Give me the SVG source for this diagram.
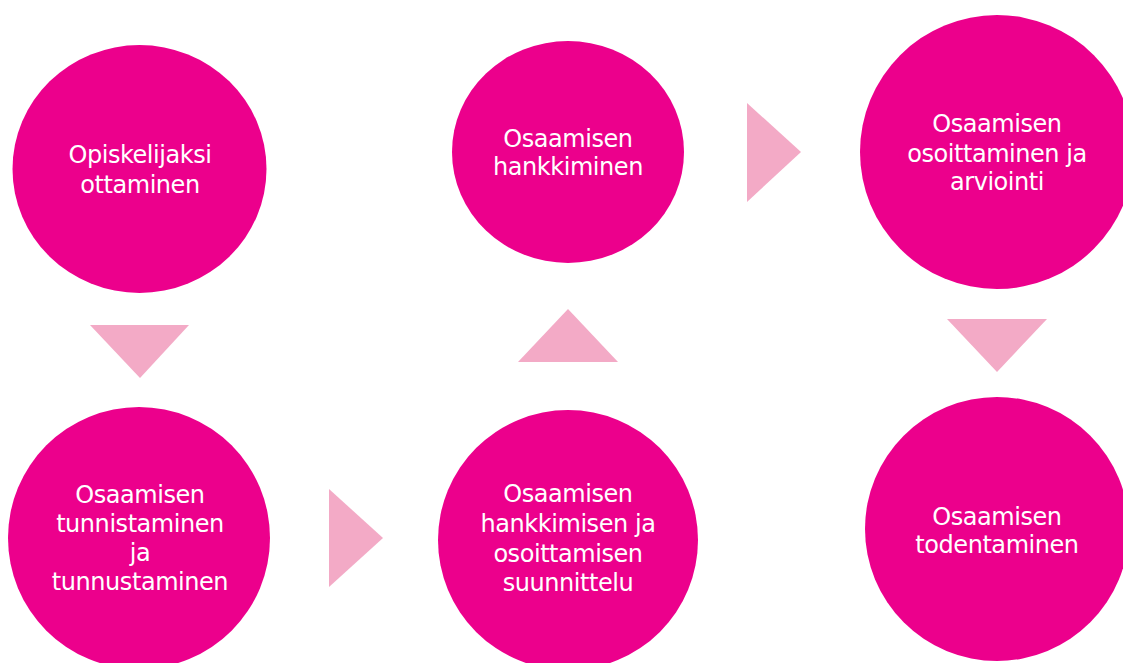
<svg xmlns="http://www.w3.org/2000/svg" width="1123" height="663" viewBox="0 0 1123 663">
<style>
.node{fill:#EC008C}
.arrow{fill:#F3AAC6}
text{font-family:"DejaVu Sans","Liberation Sans",sans-serif;font-size:24px;letter-spacing:-0.45px;fill:#ffffff;text-anchor:middle}
</style>
<rect width="1123" height="663" fill="#ffffff"/>
<g id="connectors">
<polygon class="arrow" points="90,325 189,325 140,378"/>
<polygon class="arrow" points="329,489 383,538 329,587"/>
<polygon class="arrow" points="518,362 618,362 568,309"/>
<polygon class="arrow" points="747,103 801,152 747,202"/>
<polygon class="arrow" points="947,319 1047,319 997,372"/>
</g>
<g id="n1">
<ellipse class="node" cx="139.5" cy="169" rx="127" ry="124"/>
<text x="140" y="163">Opiskelijaksi</text>
<text x="140" y="193">ottaminen</text>
</g>
<g id="n2">
<circle class="node" cx="139" cy="538" r="131"/>
<text x="140" y="503">Osaamisen</text>
<text x="140" y="532">tunnistaminen</text>
<text x="140" y="561">ja</text>
<text x="140" y="590">tunnustaminen</text>
</g>
<g id="n3">
<ellipse class="node" cx="568" cy="152" rx="116" ry="111"/>
<text x="568" y="147">Osaamisen</text>
<text x="568" y="175">hankkiminen</text>
</g>
<g id="n4">
<circle class="node" cx="568" cy="540" r="130"/>
<text x="568" y="502">Osaamisen</text>
<text x="568" y="532">hankkimisen ja</text>
<text x="568" y="562">osoittamisen</text>
<text x="568" y="591">suunnittelu</text>
</g>
<g id="n5">
<circle class="node" cx="997" cy="152" r="137"/>
<text x="997" y="132">Osaamisen</text>
<text x="997" y="162">osoittaminen ja</text>
<text x="997" y="190">arviointi</text>
</g>
<g id="n6">
<circle class="node" cx="997" cy="529" r="132"/>
<text x="997" y="525">Osaamisen</text>
<text x="997" y="553">todentaminen</text>
</g>
</svg>
